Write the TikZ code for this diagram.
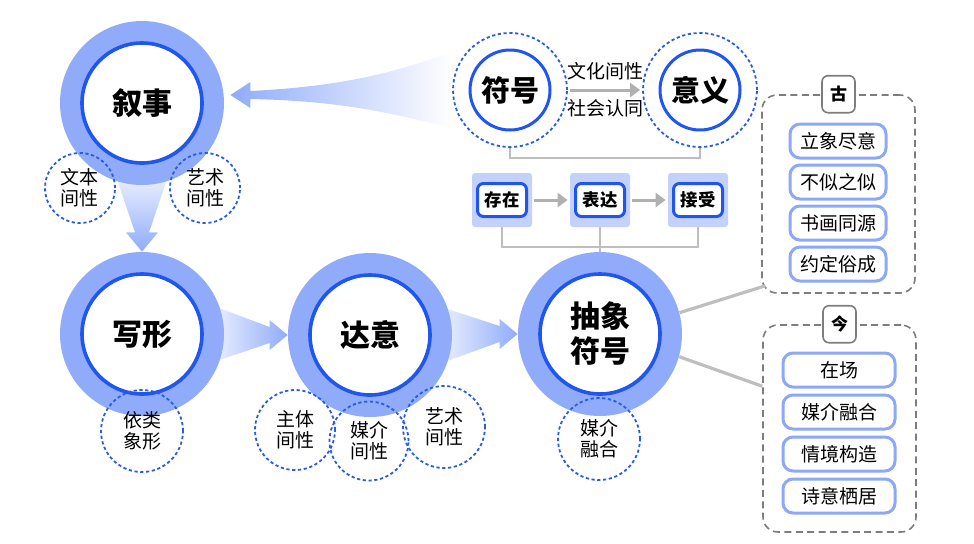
\documentclass[tikz,border=0pt]{standalone}
\usepackage{fontspec}
\setmainfont{Noto Sans CJK SC}
\usepackage{xcolor}
\usetikzlibrary{positioning,calc,arrows.meta}
\definecolor{ringblue}{RGB}{143,171,250}
\definecolor{coreblue}{RGB}{32,86,240}
\definecolor{dashblue}{RGB}{40,92,228}
\definecolor{paleblue}{RGB}{196,210,251}
\definecolor{itemblue}{RGB}{140,168,246}
\definecolor{linegray}{RGB}{190,190,190}
\definecolor{arrowgray}{RGB}{176,176,176}
\definecolor{boxgray}{RGB}{125,125,125}
\pgfdeclarelayer{bg}
\pgfsetlayers{bg,main}

\tikzset{
  ring/.style={circle, fill=ringblue, minimum size=82pt, inner sep=0pt},
  core/.style={circle, draw=coreblue, line width=1.8pt, fill=white, minimum size=60pt, inner sep=0pt, align=center, font=\bfseries\fontsize{15}{17.5}\selectfont},
  halo/.style={circle, draw=dashblue, line width=0.9pt, dash pattern=on 1.6pt off 1.3pt, minimum size=#1, inner sep=0pt, align=center, font=\fontsize{9.5}{10.5}\selectfont},
  symhalo/.style={circle, draw=dashblue, line width=0.9pt, dash pattern=on 1.6pt off 1.3pt, minimum size=57pt, inner sep=0pt},
  symcore/.style={circle, draw=coreblue, line width=1.5pt, fill=white, minimum size=40pt, inner sep=0pt, font=\bfseries\fontsize{14.5}{16}\selectfont},
  boxbg/.style={rectangle, rounded corners=1.5pt, fill=paleblue, minimum width=30pt, minimum height=27pt},
  boxcore/.style={rectangle, rounded corners=3pt, draw=coreblue, line width=1.5pt, fill=white, minimum width=24.5pt, minimum height=16.5pt, inner sep=0pt, font=\bfseries\fontsize{8.7}{10}\selectfont},
  grayarrow/.style={draw=arrowgray, line width=1.5pt, -{Triangle[length=5pt,width=7pt]}, shorten >=1pt, shorten <=1pt},
  bracket/.style={draw=linegray, line width=1pt},
  link/.style={draw=linegray, line width=1.6pt},
  panel/.style={rectangle, draw=boxgray, line width=0.8pt, dash pattern=on 3.5pt off 2.2pt, rounded corners=7.5pt},
  tag/.style={rectangle, draw=boxgray, line width=0.8pt, fill=white, rounded corners=3pt, minimum width=16.5pt, minimum height=18.5pt, inner sep=0pt, font=\bfseries\fontsize{8.5}{10}\selectfont},
  item/.style={rectangle, draw=itemblue, line width=1.5pt, fill=white, rounded corners=5pt, minimum height=17pt, inner sep=0pt, outer sep=0pt, font=\fontsize{9.5}{11}\selectfont},
  lbl/.style={inner sep=1pt, font=\fontsize{9.5}{11}\selectfont}
}

\begin{document}
\begin{tikzpicture}[x=0.5pt, y=-0.5pt]
  \useasboundingbox (0,0) rectangle (974,543);

  \node[ring] (xsring) at (142,103) {};
  \node[core] (xushi) at (xsring) {叙事};
  \node[ring] (xxring) at (142,334) {};
  \node[core] (xiexing) at (xxring) {写形};
  \node[ring] (dyring) at (370,335) {};
  \node[core] (daiyi) at (dyring) {达意};
  \node[ring] (csring) at (600,334) {};
  \node[core] (chouxiang) at (csring) {抽象\\符号};

  \node[halo=35pt] (wenben) at (80,188) {文本\\间性};
  \node[halo=35pt] (yishua) at (205,188) {艺术\\间性};
  \node[halo=41pt] (yilei) at (142,431) {依类\\象形};
  \node[halo=40pt] (zhuti) at (295,430) {主体\\间性};
  \node[halo=39.5pt] (meijie) at (369,441) {媒介\\间性};
  \node[halo=41pt] (yishub) at (444,427) {艺术\\间性};
  \node[halo=41pt] (ronghe) at (599,439) {媒介\\融合};

  \node[symhalo] (fhhalo) at (510,90) {};
  \node[symcore] (fuhao) at (fhhalo) {符号};
  \node[symhalo] (yyhalo) at (700,90) {};
  \node[symcore] (yiyi) at (yyhalo) {意义};
  \draw[grayarrow] (fhhalo) -- node[lbl, above=3pt] (wenhua) {文化间性} node[lbl, below=3pt] (shehui) {社会认同} (yyhalo);
  \draw[bracket] (fhhalo.south) -- ++(0,10) -| (yyhalo.south);

  \node[boxbg] (czbg) at (502,200) {};
  \node[boxcore] (cunzai) at (czbg) {存在};
  \node[boxbg] (bdbg) at (600,200) {};
  \node[boxcore] (biaoda) at (bdbg) {表达};
  \node[boxbg] (jsbg) at (698,200) {};
  \node[boxcore] (jieshou) at (jsbg) {接受};
  \draw[grayarrow] (czbg) -- (bdbg);
  \draw[grayarrow] (bdbg) -- (jsbg);
  \draw[bracket] (czbg.south) -- ++(0,20) -| (jsbg.south);
  \draw[bracket] (bdbg.south) -- (csring.north);

  \node[panel, minimum width=76.5pt, minimum height=99pt] (gupanel) at (838.5,194) {};
  \node[tag] (gu) at (gupanel.north) {古};
  \node[item, minimum width=48pt] (gua) at (838,141) {立象尽意};
  \node[item, minimum width=48pt, below=3.5pt of gua] (gub) {不似之似};
  \node[item, minimum width=48pt, below=3.5pt of gub] (guc) {书画同源};
  \node[item, minimum width=48pt, below=3.5pt of guc] (gud) {约定俗成};

  \node[panel, minimum width=76.5pt, minimum height=103.5pt] (jinpanel) at (839.5,428.5) {};
  \node[tag] (jin) at (jinpanel.north) {今};
  \node[item, minimum width=56pt] (jina) at (839,370) {在场};
  \node[item, minimum width=56pt, below=4pt of jina] (jinb) {媒介融合};
  \node[item, minimum width=56pt, below=4pt of jinb] (jinc) {情境构造};
  \node[item, minimum width=56pt, below=4pt of jinc] (jind) {诗意栖居};

  \draw[link] (csring.15) -- ($(gupanel.south west)+(4,-8)$);
  \draw[link] (csring.-16) -- ($(jinpanel.north west)+(0,62)$);

  \coordinate (fantip) at ($(xsring.east)+(6,-8)$);
  \begin{pgfonlayer}{bg}
    \shade[left color=ringblue, middle color=ringblue!55, right color=white]
      (fantip) -- ($(fantip)+(20,-13)$) -- ($(fantip)+(20,-4)$)
      .. controls ($(fantip)+(120,-9)$) and ($(fantip)+(170,-25)$) .. ($(fhhalo.west)+(0,-38)$)
      -- ($(fhhalo.west)+(0,38)$)
      .. controls ($(fantip)+(170,21)$) and ($(fantip)+(120,6)$) .. ($(fantip)+(20,4)$)
      -- ($(fantip)+(20,13)$) -- cycle;
    \shade[top color=ringblue!20, bottom color=ringblue]
      ($(xsring.south)+(-25,-6)$) -- ($(xsring.south)+(-7,47)$) -- ($(xsring.south)+(-16,47)$)
      -- (xxring.north) -- ($(xsring.south)+(16,47)$) -- ($(xsring.south)+(7,47)$)
      -- ($(xsring.south)+(25,-6)$) -- cycle;
    \shade[left color=ringblue!20, right color=ringblue]
      ($(xxring.east)+(-8,-27)$) -- ($(dyring.west)+(-18,-8)$) -- ($(dyring.west)+(-18,-15)$)
      -- (dyring.west) -- ($(dyring.west)+(-18,15)$) -- ($(dyring.west)+(-18,8)$)
      -- ($(xxring.east)+(-8,27)$) -- cycle;
    \shade[left color=ringblue!20, right color=ringblue]
      ($(dyring.east)+(-8,-27)$) -- ($(csring.west)+(-18,-8)$) -- ($(csring.west)+(-18,-15)$)
      -- (csring.west) -- ($(csring.west)+(-18,15)$) -- ($(csring.west)+(-18,8)$)
      -- ($(dyring.east)+(-8,27)$) -- cycle;
  \end{pgfonlayer}
\end{tikzpicture}
\end{document}
